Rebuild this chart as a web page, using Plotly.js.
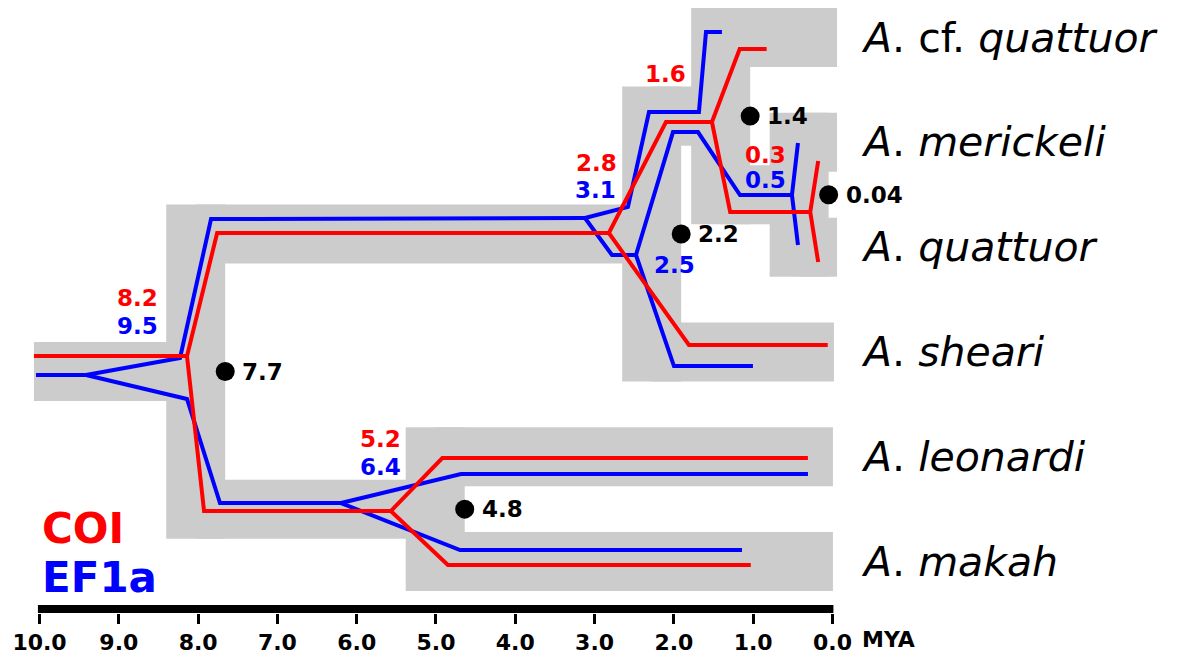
<!DOCTYPE html>
<html>
<head>
<meta charset="utf-8">
<script src="https://cdn.plot.ly/plotly-3.0.1.min.js"></script>
<style>
  html, body { margin: 0; padding: 0; background: #ffffff; }
  #chart { width: 1179px; height: 654px; }
</style>
</head>
<body>
<div id="chart"></div>
<script>
// ---- Species tree (grey bands) ----
// Tips occupy lanes 0..5 from top to bottom; split lanes are the mean of their children.
const tipNames = [
  '<i>A</i>. cf. <i>quattuor</i>',
  '<i>A</i>. <i>merickeli</i>',
  '<i>A</i>. <i>quattuor</i>',
  '<i>A</i>. <i>sheari</i>',
  '<i>A</i>. <i>leonardi</i>',
  '<i>A</i>. <i>makah</i>'
];
const tipBandEnd = [-0.057, -0.057, -0.057, -0.019, -0.006, -0.006];
const splitIds = ['s0', 's1', 's2', 's3', 's4'];
const splitPos = [8.03, 5.01, 2.28, 1.41, 0.42];
const splitKids = [['s2', 's1'], [4, 5], ['s3', 3], [0, 's4'], [1, 2]];
const splitAgeLabel = ['7.7', '4.8', '2.2', '1.4', '0.04'];
const stemStart = 10.07;

// ---- COI gene tree (red), one polyline per branch: [MYA...], [lane...] ----
const coiX = [
  [10.07, 8.14],
  [8.14, 7.76, 2.82],
  [8.14, 7.925, 5.57],
  [5.57, 4.92, 0.31],
  [5.57, 4.85, 1.03],
  [2.82, 2.10, 1.52],
  [2.82, 1.81, 0.06],
  [1.52, 1.17, 0.83],
  [1.52, 1.29, 0.28],
  [0.18, 0.28, 0.18]
];
const coiY = [
  [3.04, 3.04],
  [3.04, 1.865, 1.865],
  [3.04, 4.518, 4.518],
  [4.518, 4.013, 4.013],
  [4.518, 5.033, 5.033],
  [1.865, 0.806, 0.806],
  [1.865, 2.934, 2.934],
  [0.806, 0.11, 0.11],
  [0.806, 1.665, 1.665],
  [1.178, 1.665, 2.142]
];

// ---- EF1a gene tree (blue) ----
const ef1aX = [
  [10.044, 9.414],
  [9.414, 8.228, 7.837, 3.121],
  [9.414, 8.14, 7.724, 6.198],
  [6.198, 4.685, 0.309],
  [6.198, 4.697, 1.141],
  [3.121, 2.579, 2.314, 1.684, 1.595, 1.394],
  [3.121, 2.781, 2.478],
  [2.478, 2.011, 1.696, 1.166, 0.511],
  [2.478, 1.999, 1.003],
  [0.435, 0.511, 0.435]
];
const ef1aY = [
  [3.22, 3.22],
  [3.22, 3.058, 1.732, 1.722],
  [3.22, 3.449, 4.442, 4.442],
  [4.442, 4.165, 4.165],
  [4.442, 4.89, 4.89],
  [1.722, 1.617, 0.711, 0.711, -0.052, -0.052],
  [1.722, 2.075, 2.075],
  [2.075, 0.902, 0.902, 1.503, 1.503],
  [2.075, 3.135, 3.135],
  [1.007, 1.503, 1.98]
];

// ---- Gene-tree node ages written beside the splits ----
const coiNodeText = ['8.2', '5.2', '2.8', '1.6', '0.3'];
const coiNodeX = [8.769, 5.694, 2.976, 2.106, 0.845];
const coiNodeY = [2.486, 3.831, 1.198, 0.348, 1.121];
const ef1aNodeText = ['9.5', '6.4', '3.1', '2.5', '0.5'];
const ef1aNodeX = [8.769, 5.694, 2.989, 1.992, 0.845];
const ef1aNodeY = [2.753, 4.098, 1.455, 2.171, 1.36];

// ---- Time axis ----
const tickVals = [10, 9, 8, 7, 6, 5, 4, 3, 2, 1, 0];
const tickText = ['10.0', '9.0', '8.0', '7.0', '6.0', '5.0', '4.0', '3.0', '2.0', '1.0', '0.0'];

// ---------------------------------------------------------------
const RED = '#ff0000', BLUE = '#0000ff', GREY = '#cccccc';
const FONT = 'DejaVu Sans, Verdana, sans-serif';
const xRange = [10.12, -0.095];
const yRange = [5.491, -0.358];
const BAND_X = 0.372, BAND_Y = 0.2815;

function lane(id) {
  if (typeof id === 'number') return id;
  const k = splitKids[splitIds.indexOf(id)];
  return (lane(k[0]) + lane(k[1])) / 2;
}
function xPaper(v) { return (xRange[0] - v) / (xRange[0] - xRange[1]); }

const shapes = [];
function band(x0, x1, y0, y1) {
  shapes.push({ type: 'rect', xref: 'x', yref: 'y', x0: x0, x1: x1, y0: y0, y1: y1,
    fillcolor: GREY, line: { width: 0 }, layer: 'below' });
}
band(stemStart, splitPos[0], lane('s0') - BAND_Y, lane('s0') + BAND_Y);
splitIds.forEach(function (id, i) {
  const a = splitPos[i];
  const ls = splitKids[i].map(lane);
  band(a - BAND_X, a + BAND_X, Math.min.apply(null, ls) - BAND_Y, Math.max.apply(null, ls) + BAND_Y);
  splitKids[i].forEach(function (k) {
    const end = typeof k === 'number' ? tipBandEnd[k] : splitPos[splitIds.indexOf(k)];
    const l = lane(k);
    band(a, end, l - BAND_Y, l + BAND_Y);
  });
});

// Scale bar under the tree
shapes.push({ type: 'rect', xref: 'x', yref: 'y', x0: 10.02, x1: -0.012, y0: 5.415, y1: 5.491,
  fillcolor: '#000000', line: { width: 0 }, layer: 'above' });

function joinBranches(xs, ys) {
  const X = [], Y = [];
  xs.forEach(function (b, i) { X.push.apply(X, b); Y.push.apply(Y, ys[i]); X.push(null); Y.push(null); });
  return { x: X, y: Y };
}
const blue = joinBranches(ef1aX, ef1aY);
const red = joinBranches(coiX, coiY);

const dotX = splitPos.map(function (a) { return a - BAND_X; });
const dotY = splitIds.map(lane);

const traces = [
  { type: 'scatter', mode: 'lines', x: blue.x, y: blue.y, connectgaps: false,
    line: { color: BLUE, width: 4 }, hoverinfo: 'skip', showlegend: false },
  { type: 'scatter', mode: 'lines', x: red.x, y: red.y, connectgaps: false,
    line: { color: RED, width: 4 }, hoverinfo: 'skip', showlegend: false },
  { type: 'scatter', mode: 'markers', x: dotX, y: dotY, cliponaxis: false,
    marker: { color: '#000000', size: 19 }, hoverinfo: 'skip', showlegend: false }
];

const annotations = [];
function note(text, x, y, color, size, xanchor, extra) {
  const a = Object.assign({ text: text, x: x, y: y, xref: 'x', yref: 'y', showarrow: false,
    xanchor: xanchor, yanchor: 'middle', font: { family: FONT, size: size, color: color } }, extra || {});
  annotations.push(a);
}
coiNodeText.forEach(function (t, i) { note('<b>' + t + '</b>', coiNodeX[i], coiNodeY[i], RED, 23, 'center'); });
ef1aNodeText.forEach(function (t, i) { note('<b>' + t + '</b>', ef1aNodeX[i], ef1aNodeY[i], BLUE, 23, 'center'); });
splitAgeLabel.forEach(function (t, i) {
  note('<b>' + t + '</b>', dotX[i], dotY[i], '#000000', 23, 'left', { xshift: 15 });
});
tipNames.forEach(function (t, i) {
  note(t, xPaper(-0.33), i, '#000000', 41, 'left', { xref: 'paper' });
});
note('<b>COI</b>', 9.99, 4.68, RED, 42, 'left');
note('<b>EF1a</b>', 9.99, 5.148, BLUE, 42, 'left');
// unit label sitting on the tick-label row, right of 0.0
note('<b>MYA</b>', xPaper(-0.36), -41 / 613, '#000000', 22, 'left',
  { xref: 'paper', yref: 'paper', yanchor: 'bottom', borderpad: 0, yshift: 1 });

const layout = {
  width: 1179, height: 654,
  margin: { l: 30, r: 339, t: 0, b: 41 },
  paper_bgcolor: '#ffffff', plot_bgcolor: 'rgba(0,0,0,0)',
  xaxis: {
    range: xRange, tickmode: 'array', tickvals: tickVals, ticktext: tickText,
    ticks: 'outside', ticklen: 10, tickwidth: 3, tickcolor: '#000000',
    showline: false, showgrid: false, zeroline: false, fixedrange: true,
    tickfont: { family: FONT, size: 22, color: '#000000', weight: 'bold' }
  },
  yaxis: { range: yRange, visible: false, showgrid: false, zeroline: false, fixedrange: true },
  shapes: shapes,
  annotations: annotations,
  showlegend: false
};

Plotly.newPlot('chart', traces, layout, { staticPlot: true, displayModeBar: false });
</script>
</body>
</html>
